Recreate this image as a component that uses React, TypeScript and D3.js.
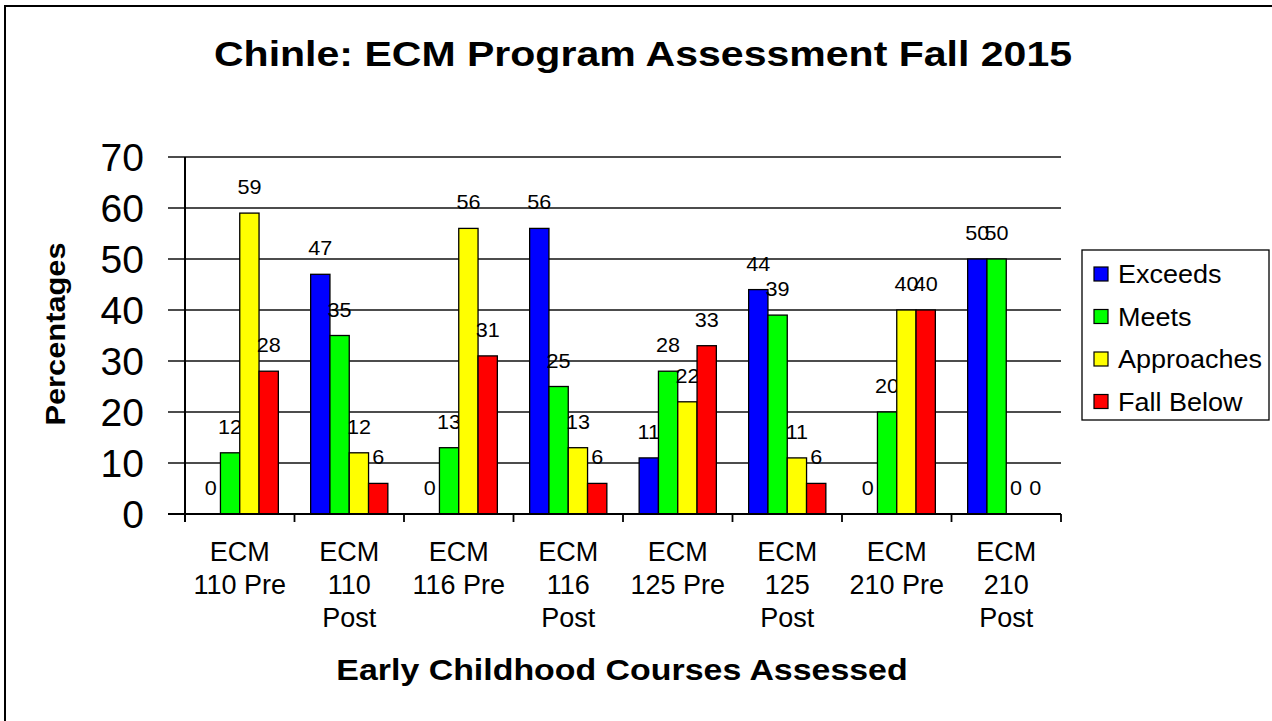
import React from "react";
import * as d3 from "d3";

const categories = [
  "ECM 110 Pre",
  "ECM 110 Post",
  "ECM 116 Pre",
  "ECM 116 Post",
  "ECM 125 Pre",
  "ECM 125 Post",
  "ECM 210 Pre",
  "ECM 210 Post",
];
const seriesNames = ["Exceeds", "Meets", "Approaches", "Fall Below"];
const exceeds = [0, 47, 0, 56, 11, 44, 0, 50];
const meets = [12, 35, 13, 25, 28, 39, 20, 50];
const approaches = [59, 12, 56, 13, 22, 11, 40, 0];
const fallBelow = [28, 6, 31, 6, 33, 6, 40, 0];
const yTicks = [0, 10, 20, 30, 40, 50, 60, 70];
const colors = ["#0000FF", "#00FF00", "#FFFF00", "#FF0000"];

const FONT = "'Liberation Sans', Arial, Helvetica, sans-serif";

function wrap(label: string, maxW: number, size: number): string[] {
  const canvas = document.createElement("canvas");
  const ctx = canvas.getContext("2d")!;
  ctx.font = `${size}px ${FONT}`;
  const words = label.split(" ");
  const lines: string[] = [];
  let cur = "";
  for (const w of words) {
    const t = cur ? cur + " " + w : w;
    if (cur && ctx.measureText(t).width > maxW) {
      lines.push(cur);
      cur = w;
    } else cur = t;
  }
  if (cur) lines.push(cur);
  return lines;
}

function T(props: {
  x: number;
  y: number;
  size: number;
  sx?: number;
  rot?: number;
  anchor?: string;
  bold?: boolean;
  children: React.ReactNode;
}) {
  const { x, y, size, sx = 1, rot = 0, anchor = "middle", bold } = props;
  return (
    <text
      transform={`translate(${x},${y}) rotate(${rot}) scale(${sx},1)`}
      fontSize={size}
      fontFamily={FONT}
      fontWeight={bold ? "bold" : "normal"}
      textAnchor={anchor}
      fill="#000"
    >
      {props.children}
    </text>
  );
}

export default function App() {
  const W = 1272;
  const H = 721;
  const left = 185;
  const right = 1061;
  const top = 157;
  const bottom = 514;
  const series = [exceeds, meets, approaches, fallBelow];

  const x0 = d3.scaleBand<string>().domain(categories).range([left, right]).paddingInner(0).paddingOuter(0);
  const bw = x0.bandwidth();
  const groupW = bw * 0.705;
  const x1 = d3
    .scaleBand<string>()
    .domain(seriesNames)
    .range([(bw - groupW) / 2, (bw + groupW) / 2]);
  const y = d3.scaleLinear().domain([0, 70]).range([bottom, top]);

  const catTicks = [...categories.map((c) => x0(c)!), right];

  return (
    <svg
      width={W}
      height={H}
      style={{ position: "absolute", left: 0, top: 0, background: "#fff" }}
    >
      <rect x={0} y={0} width={W} height={H} fill="#fff" />
      <rect x={5} y={6} width={1400} height={900} fill="none" stroke="#000" strokeWidth={2} />

      <T x={643} y={66} size={36} sx={1.14} bold>
        Chinle: ECM Program Assessment Fall 2015
      </T>

      {/* gridlines */}
      {yTicks.map((t) => (
        <line key={t} x1={168} x2={right} y1={y(t)} y2={y(t)} stroke="#111" strokeWidth={1.6} />
      ))}
      {yTicks.map((t) => (
        <T key={"yl" + t} x={144} y={y(t) + 14} size={39} anchor="end">
          {t}
        </T>
      ))}

      {/* bars */}
      {categories.map((c, i) => (
        <g key={c} transform={`translate(${x0(c)},0)`}>
          {series.map((s, j) => {
            const v = s[i];
            const bx = x1(seriesNames[j])!;
            return (
              <g key={j}>
                {v > 0 && (
                  <rect
                    x={bx}
                    y={y(v)}
                    width={x1.bandwidth()}
                    height={y(0) - y(v)}
                    fill={colors[j]}
                    stroke="#000"
                    strokeWidth={1.3}
                  />
                )}
                <T x={bx + x1.bandwidth() / 2} y={y(v) - 19} size={20} sx={1.08}>
                  {v}
                </T>
              </g>
            );
          })}
        </g>
      ))}

      {/* axes */}
      <line x1={left} x2={left} y1={top} y2={522} stroke="#000" strokeWidth={2} />
      <line x1={168} x2={right} y1={bottom} y2={bottom} stroke="#000" strokeWidth={1.8} />
      {catTicks.map((cx, i) => (
        <line key={i} x1={cx} x2={cx} y1={bottom} y2={522} stroke="#000" strokeWidth={1.8} />
      ))}

      {/* category labels */}
      {categories.map((c) => {
        const lines = wrap(c, 100, 27);
        const cx = x0(c)! + bw / 2;
        return lines.map((ln, k) => (
          <T key={c + k} x={cx} y={561 + k * 33} size={27}>
            {ln}
          </T>
        ));
      })}

      <T x={622} y={680} size={30} sx={1.13} bold>
        Early Childhood Courses Assessed
      </T>
      <T x={65} y={334} size={28} sx={1.1} rot={-90} bold>
        Percentages
      </T>

      {/* legend */}
      <rect x={1082} y={250} width={187} height={170} fill="#fff" stroke="#000" strokeWidth={1.3} />
      {seriesNames.map((n, j) => {
        const cy = 274 + j * 42.5;
        return (
          <g key={n}>
            <rect x={1094} y={cy - 7} width={14} height={14} fill={colors[j]} stroke="#000" strokeWidth={1.2} />
            <T x={1118} y={cy + 9} size={25} sx={1.08} anchor="start">
              {n}
            </T>
          </g>
        );
      })}
    </svg>
  );
}
